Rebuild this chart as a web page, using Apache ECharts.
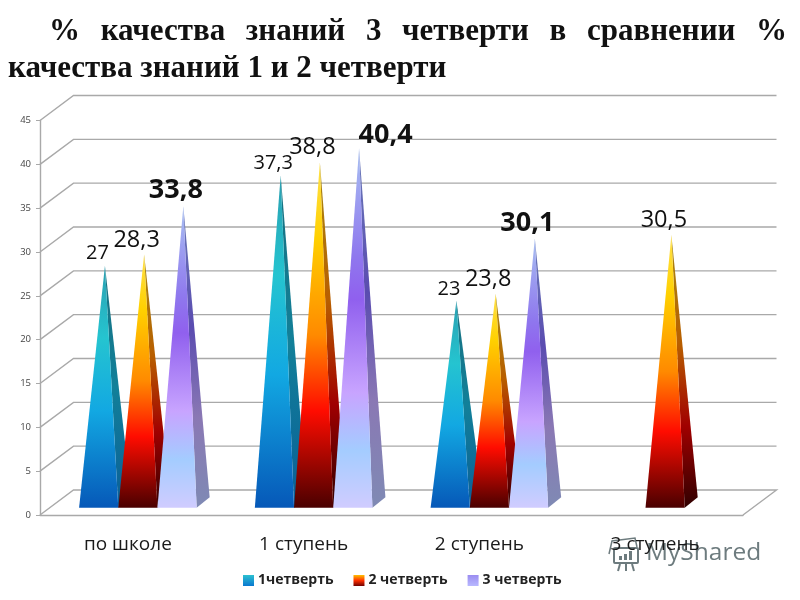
<!DOCTYPE html>
<html><head><meta charset="utf-8">
<style>html,body{margin:0;padding:0;background:#fff}#c{width:800px;height:600px}</style>
<script src="https://cdn.jsdelivr.net/npm/echarts@6/dist/echarts.min.js"></script>
</head><body><div id="c"></div>
<script>
const categories = ['по школе', '1 ступень', '2 ступень', '3 ступень'];
const seriesNames = ['1четверть', '2 четверть', '3 четверть'];
const q1 = [27, 37.3, 23, null];
const q2 = [28.3, 38.8, 23.8, 30.5];
const q3 = [33.8, 40.4, 30.1, null];
const yTicks = [0, 5, 10, 15, 20, 25, 30, 35, 40, 45];

const WALL = {dx: 33.5, dy: -25};
const BASE = {dx: 10, dy: -7.3};
const DEPTH = {dx: 13, dy: -10.5};
const APEX = {dx: 6.25, dy: -5.25};
const BAR_FRACTION = 0.223;
const GRID_COLOR = '#a9a9a9';
const MARK_COLOR = '#6d7b7e';

const grad = stops => ({type: 'linear', x: 0, y: 0, x2: 0, y2: 1,
  colorStops: stops.map(s => ({offset: s[0], color: s[1]}))});

const faces = [
  {front: grad([[0, '#2a9fb0'], [0.3, '#25c4d0'], [0.6, '#12a8e2'], [1, '#0658b8']]),
   side: grad([[0, '#17707f'], [0.5, '#128099'], [1, '#0a5f98']])},
  {front: grad([[0, '#ffe14a'], [0.22, '#ffd000'], [0.5, '#ff8a00'], [0.72, '#ff0c00'], [1, '#4a0000']]),
   side: grad([[0, '#a88a10'], [0.4, '#b85e00'], [0.7, '#a00000'], [1, '#300000'] ])},
  {front: grad([[0, '#a8c0f2'], [0.3, '#8f78ee'], [0.42, '#9060ee'], [0.68, '#c8a4ff'], [0.84, '#a4ccff'], [1, '#d0ccff']]),
   side: grad([[0, '#6a7ab8'], [0.4, '#5a4cb0'], [0.7, '#8a78b4'], [1, '#7f8ab4']])}
];

const labelFonts = [
  {fontSize: 20, fontWeight: 'normal', lift: 12},
  {fontSize: 23.5, fontWeight: 'normal', lift: 14.5},
  {fontSize: 27, fontWeight: 'bold', lift: 15.5}
];
const labelShift = {'2:1': 34, '2:1y': 3};

function pyramid(seriesIdx) {
  return function (params, api) {
    const cat = api.value(0), val = api.value(1);
    if (val == null || isNaN(val)) return;
    const band = api.size([1, 0])[0];
    const w = band * BAR_FRACTION;
    const origin = api.coord([cat, 0]);
    const top = api.coord([cat, val]);
    const left = origin[0] + BASE.dx + (seriesIdx - 1.5) * w;
    const right = left + w;
    const by = origin[1] + BASE.dy;
    const ax = (left + right) / 2 + APEX.dx;
    const ay = by + APEX.dy - (origin[1] - top[1]);
    const font = labelFonts[seriesIdx];
    const key = seriesIdx + ':' + cat;
    return {
      type: 'group',
      children: [
        {type: 'polygon', z2: 1, shape: {points: [[right, by], [right + DEPTH.dx, by + DEPTH.dy], [ax, ay]]},
         style: {fill: faces[seriesIdx].side}},
        {type: 'polygon', z2: 2, shape: {points: [[left, by], [right, by], [ax, ay]]},
         style: {fill: faces[seriesIdx].front}},
        {type: 'text', z2: 50,
         style: {x: ax - 7.5 + (labelShift[key] || 0), y: ay - font.lift + (labelShift[key + 'y'] || 0),
           text: String(val).replace('.', ','), align: 'center', verticalAlign: 'middle',
           fontFamily: 'Open Sans', fontSize: font.fontSize, fontWeight: font.fontWeight, fill: '#111'}}
      ]
    };
  };
}

function backdrop(params, api) {
  const sys = params.coordSys;
  const y = api.coord([0, api.value(1)])[1];
  const x0 = sys.x, x1 = sys.x + sys.width;
  const pts = [[x0, y], [x0 + WALL.dx, y + WALL.dy], [x1 + WALL.dx, y + WALL.dy]];
  if (api.value(1) === 0) pts.push([x1, y]);
  return {type: 'polyline', shape: {points: pts},
    style: {fill: null, stroke: GRID_COLOR, lineWidth: 1.4}};
}

const dataFor = arr => arr.map((v, i) => [i, v]);
const gap = '  \u2006';
const chart = echarts.init(document.getElementById('c'));
chart.setOption({
  animation: false,
  backgroundColor: '#fff',
  title: [
    {text: ['%', 'качества', 'знаний', '3', 'четверти', 'в', 'сравнении', '%'].join(gap),
     left: 49, top: 16, padding: 0,
     textStyle: {fontFamily: 'Liberation Serif', fontSize: 31, fontWeight: 'bold', color: '#111'}},
    {text: 'качества знаний 1 и 2 четверти', left: 8, top: 53, padding: 0,
     textStyle: {fontFamily: 'Liberation Serif', fontSize: 31, fontWeight: 'bold', color: '#111'}}
  ],
  grid: {left: 40, top: 120.5, width: 703, height: 394.5},
  xAxis: {type: 'category', data: categories, z: 5,
    axisLine: {lineStyle: {color: GRID_COLOR, width: 1.4}},
    axisTick: {length: 5, lineStyle: {color: GRID_COLOR, width: 1.2}},
    axisLabel: {margin: 20, fontFamily: 'Open Sans', fontSize: 19, color: '#1a1a1a', interval: 0},
    splitLine: {show: false}},
  yAxis: {type: 'value', min: 0, max: 45, interval: 5,
    axisLine: {show: true, lineStyle: {color: GRID_COLOR, width: 1.4}},
    axisTick: {show: true, length: 4, lineStyle: {color: GRID_COLOR, width: 1}},
    axisLabel: {margin: 9, fontFamily: 'Open Sans', fontSize: 9.5, color: '#444'},
    splitLine: {show: false}},
  legend: {show: true, data: seriesNames, left: 238, top: 568.5, itemWidth: 11, itemHeight: 11, itemGap: 20,
    icon: 'rect',
    textStyle: {fontFamily: 'Open Sans', fontSize: 14, fontWeight: 'bold', color: '#222', padding: [0, 0, 0, -1]}},
  series: [
    {type: 'custom', name: 'backdrop', z: 1, silent: true, clip: false,
     renderItem: backdrop, data: yTicks.map(t => [0, t]), encode: {x: 0, y: 1}},
    {type: 'custom', name: seriesNames[0], z: 2, clip: false, renderItem: pyramid(0), data: dataFor(q1),
     encode: {x: 0, y: 1}, itemStyle: {color: grad([[0, '#2cc0d0'], [1, '#0a78d0']])}},
    {type: 'custom', name: seriesNames[1], z: 3, clip: false, renderItem: pyramid(1), data: dataFor(q2),
     encode: {x: 0, y: 1}, itemStyle: {color: grad([[0, '#ffc000'], [0.5, '#ff3000'], [1, '#700000']])}},
    {type: 'custom', name: seriesNames[2], z: 4, clip: false, renderItem: pyramid(2), data: dataFor(q3),
     encode: {x: 0, y: 1}, itemStyle: {color: grad([[0, '#9a8cf0'], [1, '#b8b8ff']])}}
  ],
  graphic: {elements: [
    {type: 'text', z: 0, x: 646, y: 541,
     style: {text: 'MyShared', fontFamily: 'Open Sans', fontSize: 24.5, fill: MARK_COLOR}},
    {type: 'polyline', z: 0, shape: {points: [[609, 554], [612, 541], [635, 538], [637, 547]]},
     style: {fill: null, stroke: MARK_COLOR, lineWidth: 1.5}},
    {type: 'rect', z: 0, shape: {x: 614, y: 548, width: 24, height: 15, r: 1},
     style: {fill: null, stroke: MARK_COLOR, lineWidth: 2}},
    {type: 'rect', z: 0, shape: {x: 619, y: 556, width: 3, height: 4}, style: {fill: MARK_COLOR}},
    {type: 'rect', z: 0, shape: {x: 624, y: 554, width: 3, height: 6}, style: {fill: MARK_COLOR}},
    {type: 'rect', z: 0, shape: {x: 629, y: 551, width: 3, height: 9}, style: {fill: MARK_COLOR}},
    {type: 'polyline', z: 0, shape: {points: [[620, 564], [618, 571]]}, style: {fill: null, stroke: MARK_COLOR, lineWidth: 2}},
    {type: 'polyline', z: 0, shape: {points: [[626, 564], [626, 571]]}, style: {fill: null, stroke: MARK_COLOR, lineWidth: 2}},
    {type: 'polyline', z: 0, shape: {points: [[632, 564], [634, 571]]}, style: {fill: null, stroke: MARK_COLOR, lineWidth: 2}}
  ]}
});
</script></body></html>
